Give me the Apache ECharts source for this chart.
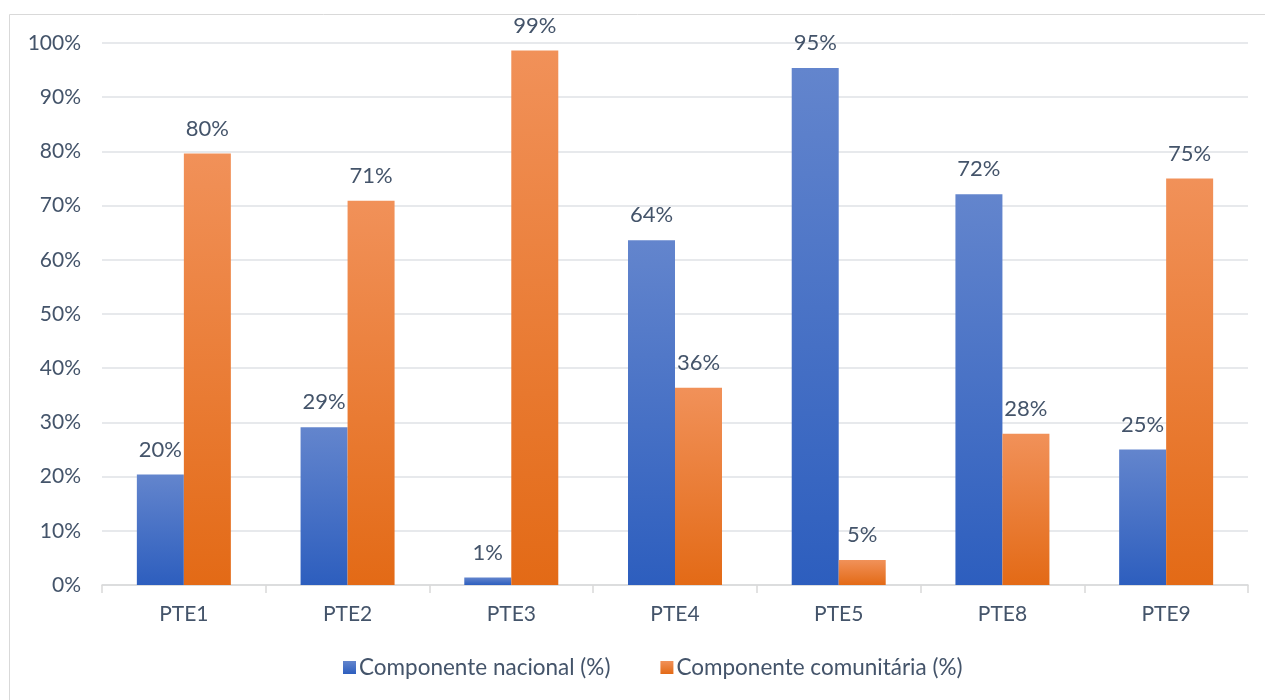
<!DOCTYPE html>
<html><head><meta charset="utf-8">
<script src="https://cdn.jsdelivr.net/npm/echarts@6/dist/echarts.min.js"></script>
<style>html,body{margin:0;padding:0;background:#fff}#c{width:1265px;height:700px}</style>
</head><body><div id="c"></div>
<script>
var categories = ['PTE1','PTE2','PTE3','PTE4','PTE5','PTE8','PTE9'];
var nacional = [20.4, 29.1, 1.4, 63.6, 95.4, 72.1, 25.0];
var comunitaria = [79.6, 70.9, 98.6, 36.4, 4.6, 27.9, 75.0];
var seriesNames = ['Componente nacional (%)', 'Componente comunitária (%)'];
var yTicks = [0,10,20,30,40,50,60,70,80,90,100];

var txt = '#44546a';
var font = 'Lato, "Open Sans", sans-serif';
function grad(top, bottom){
  return new echarts.graphic.LinearGradient(0,0,0,1,[{offset:0,color:top},{offset:1,color:bottom}]);
}
var chart = echarts.init(document.getElementById('c'));
chart.setOption({
  animation:false,
  textStyle:{fontFamily:font},
  graphic:[{type:'rect',shape:{x:9.5,y:14.5,width:1270,height:700},style:{fill:'none',stroke:'#d9d9d9',lineWidth:1},silent:true}],
  grid:{left:102,right:17,top:43,bottom:115,containLabel:false},
  legend:{bottom:16,left:338,itemWidth:13,itemHeight:13,itemGap:50,icon:'rect',
    textStyle:{color:txt,fontSize:22.5,fontFamily:font,padding:[0,0,0,-2]},data:seriesNames},
  xAxis:{type:'category',data:categories,
    axisLine:{lineStyle:{color:'#d9d9d9',width:1.5}},
    axisTick:{show:true,length:8,lineStyle:{color:'#d9d9d9',width:1.5}},
    axisLabel:{color:txt,fontSize:21,margin:19,fontFamily:font}},
  yAxis:{type:'value',min:yTicks[0],max:yTicks[yTicks.length-1],interval:10,
    axisLine:{show:false},axisTick:{show:false},
    splitLine:{lineStyle:{color:'#dfe2e6',width:1.5}},
    axisLabel:{color:txt,fontSize:21,margin:21,formatter:function(v){return v+'%';},fontFamily:font}},
  series:[
    {name:seriesNames[0],type:'bar',data:nacional,barWidth:47,barGap:'0%',
     itemStyle:{color:grad('#6385cd','#2d5ebe')},
     label:{show:true,position:'top',distance:14,color:txt,fontSize:22,fontFamily:font,
       formatter:function(p){return Math.round(p.value)+'%';}}},
    {name:seriesNames[1],type:'bar',data:comunitaria,barWidth:47,
     itemStyle:{color:grad('#f19159','#e36a16')},
     label:{show:true,position:'top',distance:14,color:txt,fontSize:22,fontFamily:font,
       formatter:function(p){return Math.round(p.value)+'%';}}}
  ]
});
</script></body></html>
